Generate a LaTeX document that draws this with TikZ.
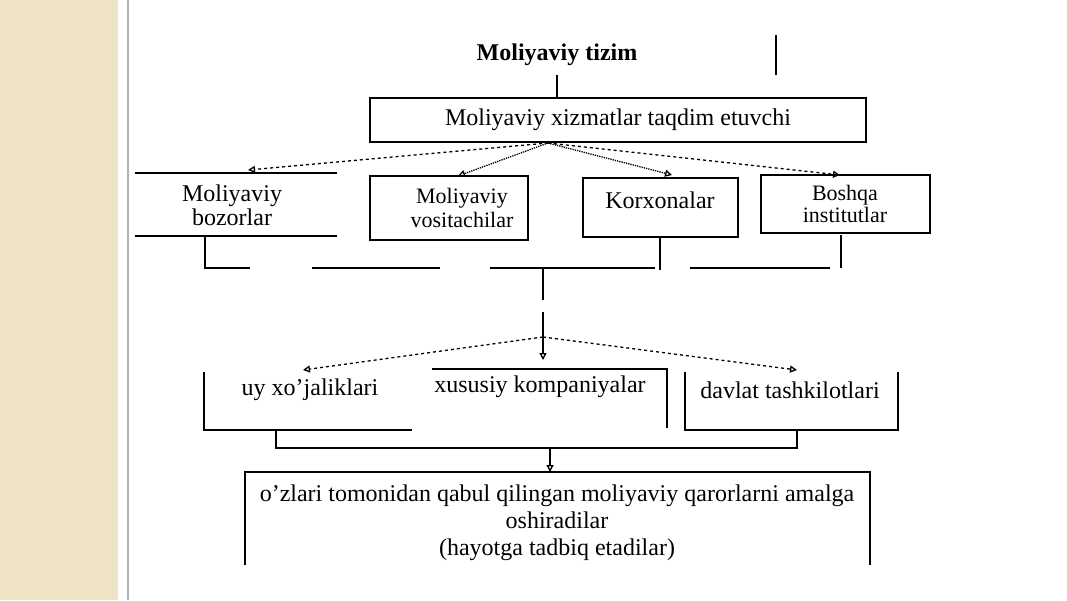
\documentclass[tikz,border=0pt]{standalone}
\usepackage{fontspec}
\setmainfont{Liberation Serif}
\usetikzlibrary{arrows.meta,positioning}
\definecolor{strip}{RGB}{238,228,196}
\tikzstyle{lbl}=[font=\fontsize{24}{24}\selectfont,inner sep=0pt,align=center]
\tikzstyle{edge}=[line width=1.1pt]
\tikzstyle{arr}=[edge,line width=1.3pt,-{Triangle[open,length=7pt,width=7pt]}]

\begin{document}
\begin{tikzpicture}[x=1pt, y=-1pt]
  \useasboundingbox (0,0) rectangle (1067,600);
  \fill[strip] (0,0) rectangle (118,600);
  \draw[gray!60, line width=1.5pt] (128,0) -- (128,600);

  % top
  \node[lbl, font=\bfseries\fontsize{24}{24}\selectfont] (tizim) at (557,55) {Moliyaviy tizim};
  \draw[edge] (776,35) -- (776,75);
  \draw[edge] (557,75) -- (557,98);
  \draw[edge] (370,98) rectangle (866,142);
  \node[lbl] (xizmat) at (618,120) {Moliyaviy xizmatlar taqdim etuvchi};
  \coordinate (hub) at (548,143);

  % middle row
  \draw[edge] (135,173) -- (337,173) (135,236) -- (337,236);
  \node[lbl] (bozor) at (232,205) {Moliyaviy\\bozorlar};
  \draw[edge] (370,176) rectangle (528,240);
  \node[lbl, font=\fontsize{22}{24}\selectfont] (vosita) at (462,208) {Moliyaviy\\vositachilar};
  \draw[edge] (583,178) rectangle (738,237);
  \node[lbl] (korxona) at (660,200) {Korxonalar};
  \draw[edge] (761,175) rectangle (930,233);
  \node[lbl, font=\fontsize{22}{22}\selectfont] (boshqa) at (845,204) {Boshqa\\institutlar};

  \coordinate (t1) at (248,170);
  \coordinate (t2) at (458,176);
  \coordinate (t3) at (672,175);
  \coordinate (t4) at (840,175);
  \draw[arr, dashed] (hub) -- (t1);
  \draw[arr, densely dotted] (hub) -- (t2);
  \draw[arr, densely dotted] (hub) -- (t3);
  \draw[arr, dashed] (hub) -- (t4);

  % joining line
  \draw[edge] (205,236) -- (205,268) -- (250,268);
  \draw[edge] (312,268) -- (440,268) (490,268) -- (655,268);
  \draw[edge] (660,237) -- (660,270);
  \draw[edge] (690,268) -- (830,268);
  \draw[edge] (841,235) -- (841,268);

  \coordinate (mid) at (543,268);
  \coordinate (split) at (543,337);
  \coordinate (s1) at (303,370);
  \coordinate (s2) at (543,360);
  \coordinate (s3) at (797,370);
  \draw[edge] (mid) -- (543,300);
  \draw[arr] (543,312) -- (s2);
  \draw[arr, dashed] (split) -- (s1);
  \draw[arr, dashed] (split) -- (s3);

  % lower row
  \draw[edge] (204,372) -- (204,430) -- (412,430);
  \node[lbl] (uy) at (310,390) {uy xo’jaliklari};
  \draw[edge] (432,369) -- (667,369) -- (667,428);
  \node[lbl] (xususiy) at (540,387) {xususiy kompaniyalar};
  \draw[edge] (685,372) -- (685,430) -- (898,430) -- (898,372);
  \node[lbl] (davlat) at (790,390) {davlat tashkilotlari};

  \draw[edge] (276,430) -- (276,448) -- (797,448) -- (797,430);
  \coordinate (j) at (550,448);
  \coordinate (b) at (550,472);
  \draw[arr] (j) -- (b);

  % bottom
  \draw[edge] (245,565) -- (245,472) -- (870,472) -- (870,565);
  \node[lbl, font=\fontsize{24}{27}\selectfont] (qaror) at (557,523)
    {o’zlari tomonidan qabul qilingan moliyaviy qarorlarni amalga\\oshiradilar\\(hayotga tadbiq etadilar)};
\end{tikzpicture}
\end{document}
